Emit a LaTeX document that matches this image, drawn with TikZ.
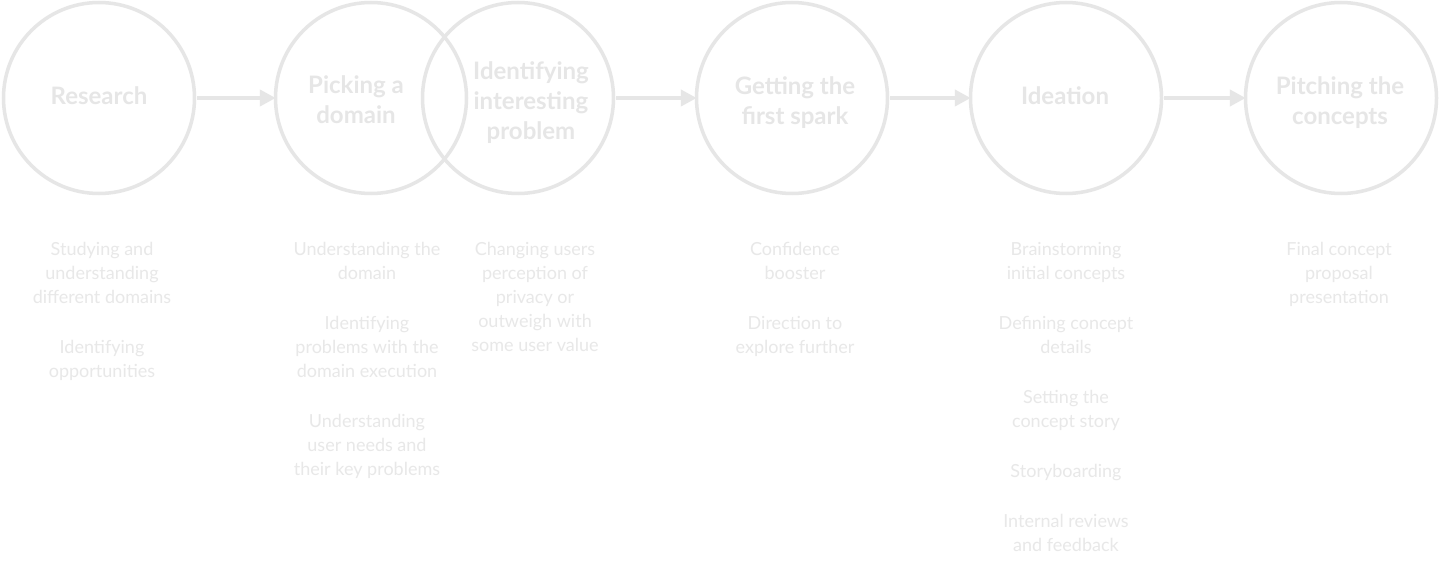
\documentclass[tikz,border=0pt]{standalone}
\usepackage{fontspec}
\setmainfont{Lato}
\usetikzlibrary{arrows.meta,calc}
\definecolor{ln}{HTML}{E6E6E6}
\definecolor{tx}{HTML}{E6E6E6}
\definecolor{bx}{HTML}{E8E8E8}
\begin{document}
\begin{tikzpicture}[x=1pt,y=-1pt,
  stage/.style={circle,draw=ln,line width=3.5pt,minimum size=191pt,inner sep=0pt},
  title/.style={font=\fontsize{24}{30}\selectfont\bfseries,text=tx,align=center,inner sep=0pt},
  body/.style={font=\fontsize{18}{24}\selectfont,text=bx,align=center,anchor=north,inner sep=0pt},
  flow/.style={draw=ln,line width=4pt,-{Triangle[length=16pt,width=16pt]},shorten <=1pt,shorten >=-2pt}]
\fill[white] (0,0) rectangle (1440,580);
\useasboundingbox (0,0) rectangle (1440,580);

\node[stage] (res)  at (99,98) {};
\node[stage] (pick) at (371,98) {};
\node[stage] (iden) at (518,98) {};
\node[stage] (get)  at (792,98) {};
\node[stage] (idea) at (1066,98) {};
\node[stage] (pit)  at (1341,98) {};

\node[title] (tres)  at (99,96) {Research};
\node[title] (tpick) at (356,100) {Picking a\\domain};
\node[title] (tiden) at (531,103) {Identifying\\interesting\\problem};
\node[title] (tget)  at (795,103) {Getting the\\first spark};
\node[title] (tidea) at (1065,96) {Ideation};
\node[title] (tpit)  at (1340,103) {Pitching the\\concepts};

\draw[flow] (res) -- (pick);
\draw[flow] (iden) -- (get);
\draw[flow] (get) -- (idea);
\draw[flow] (idea) -- (pit);

\node[body] (bres) at (102,242) {Studying and\\understanding\\different domains\\[26pt]Identifying\\opportunities};
\node[body] (bpick) at (367,242) {Understanding the\\domain\\[26pt]Identifying\\problems with the\\domain execution\\[26pt]Understanding\\user needs and\\their key problems};
\node[body] (biden) at (535,242) {Changing users\\perception of\\privacy or\\outweigh with\\some user value};
\node[body] (bget) at (795,242) {Confidence\\booster\\[26pt]Direction to\\explore further};
\node[body] (bidea) at (1066,242) {Brainstorming\\initial concepts\\[26pt]Defining concept\\details\\[26pt]Setting the\\concept story\\[26pt]Storyboarding\\[26pt]Internal reviews\\and feedback};
\node[body] (bpit) at (1339,242) {Final concept\\proposal\\presentation};
\end{tikzpicture}
\end{document}
